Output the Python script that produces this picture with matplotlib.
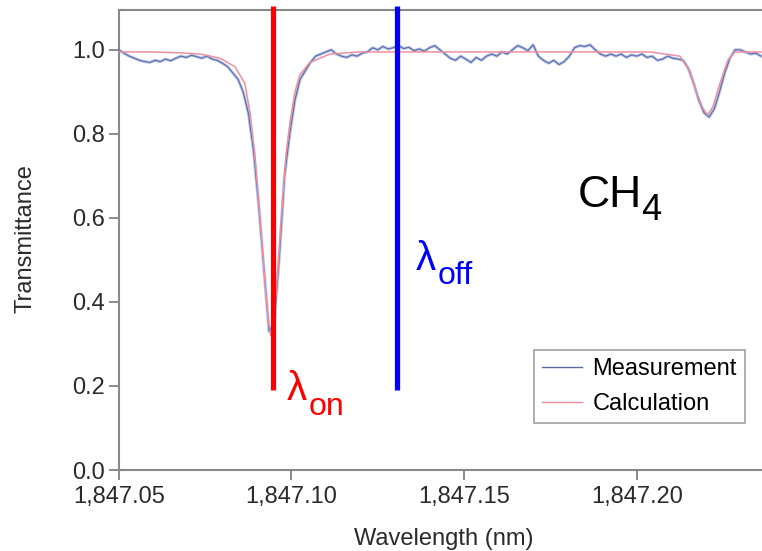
import numpy as np
import matplotlib
matplotlib.use("Agg")
from matplotlib import pyplot as plt
from matplotlib.ticker import FuncFormatter

plt.rcParams['font.family'] = ['Liberation Sans', 'DejaVu Sans']

# measured spectrum, sampled every 0.0015 nm from 1847.050 nm
meas_start = 1847.050
meas_step = 0.0015
meas_t = [
    1.000, 0.992, 0.985, 0.980, 0.975, 0.972, 0.970, 0.975, 0.972, 0.978,
    0.974, 0.980, 0.985, 0.982, 0.987, 0.984, 0.980, 0.985, 0.978, 0.975,
    0.968, 0.960, 0.945, 0.930, 0.900, 0.850, 0.760, 0.630, 0.480, 0.330,
    0.350, 0.510, 0.700, 0.800, 0.880, 0.930, 0.950, 0.970, 0.985, 0.990,
    0.995, 1.000, 0.990, 0.985, 0.982, 0.988, 0.985, 0.992, 0.995, 1.005,
    1.000, 1.008, 1.002, 1.005, 1.010, 1.003, 1.006, 0.998, 1.002, 0.997,
    1.005, 1.010, 1.000, 0.990, 0.980, 0.975, 0.985, 0.978, 0.970, 0.982,
    0.975, 0.985, 0.990, 0.985, 0.995, 0.990, 1.000, 1.010, 1.005, 0.998,
    1.012, 0.985, 0.975, 0.968, 0.975, 0.965, 0.972, 0.985, 1.005, 1.010,
    1.008, 1.012, 1.000, 0.990, 0.985, 0.990, 0.985, 0.990, 0.982, 0.988,
    0.985, 0.990, 0.982, 0.985, 0.975, 0.978, 0.985, 0.980, 0.978, 0.975,
    0.955, 0.920, 0.880, 0.850, 0.840, 0.860, 0.900, 0.945, 0.980, 1.000,
    1.000, 0.995, 0.990, 0.992, 0.985,
]
meas_wl = meas_start + meas_step * np.arange(len(meas_t))

# calculated line profile
calc_wl = [1847.0500, 1847.0590, 1847.0677, 1847.0735, 1847.0793, 1847.0836,
           1847.0865, 1847.0880, 1847.0894, 1847.0909, 1847.0920, 1847.0932,
           1847.0940, 1847.0949, 1847.0961, 1847.0972, 1847.0984, 1847.0996,
           1847.1010, 1847.1024, 1847.1053, 1847.1111, 1847.1198, 1847.1314,
           1847.2038, 1847.2125, 1847.2154, 1847.2177, 1847.2192, 1847.2206,
           1847.2221, 1847.2241, 1847.2264, 1847.2284, 1847.2363]
calc_t = [0.995, 0.995, 0.993, 0.990, 0.980, 0.960,
          0.920, 0.850, 0.750, 0.600, 0.480, 0.360,
          0.320, 0.360, 0.480, 0.620, 0.750, 0.830,
          0.900, 0.940, 0.970, 0.990, 0.995, 0.995,
          0.995, 0.985, 0.950, 0.890, 0.860, 0.845,
          0.865, 0.920, 0.975, 0.995, 0.995]

lambda_on = 1847.0946
lambda_off = 1847.1305
marker_bottom, marker_top = 0.19, 1.105

fig = plt.figure(figsize=(7.62, 5.51), dpi=100)
ax = fig.add_axes([0.156, 0.147, 0.844, 0.835])

ax.plot(meas_wl, meas_t, color='#b8c6ec', lw=2.2, zorder=2)
ax.plot(meas_wl, meas_t, color='#5a6ba4', lw=0.8, label='Measurement', zorder=3)
ax.plot(calc_wl, calc_t, color='#ee8fa0', lw=1.1, label='Calculation', zorder=4)

ax.plot([lambda_on, lambda_on], [marker_bottom, marker_top], color='#ff0000',
        lw=3.8, clip_on=False, zorder=5, solid_capstyle='butt')
ax.plot([lambda_off, lambda_off], [marker_bottom, marker_top], color='#0000ff',
        lw=3.8, clip_on=False, zorder=5, solid_capstyle='butt')


def label_with_sub(x, y, main, sub, color, size, subsize, dx, dy):
    ax.text(x, y, main, color=color, fontsize=size, va='baseline', ha='left')
    ax.annotate(sub, xy=(x, y), xytext=(dx, dy), textcoords='offset pixels',
                color=color, fontsize=subsize, va='baseline', ha='left')


label_with_sub(1847.0985, 0.167, 'λ', 'on', '#ff0000', 29, 23, 22, -15)
label_with_sub(1847.1361, 0.476, 'λ', 'off', '#0000ff', 29, 23, 22, -14)
label_with_sub(1847.1828, 0.626, 'CH', '4', 'black', 32, 26, 64, -13)

ax.set_xlim(1847.05, 1847.2363)
ax.set_ylim(0.0, 1.095)
ax.set_xticks([1847.05, 1847.10, 1847.15, 1847.20])
ax.set_yticks([0.0, 0.2, 0.4, 0.6, 0.8, 1.0])
ax.xaxis.set_major_formatter(FuncFormatter(lambda v, p: f'{v:,.2f}'))
ax.yaxis.set_major_formatter(FuncFormatter(lambda v, p: f'{v:.1f}'))
ax.tick_params(direction='out', length=7, width=1.2, color='#777777',
               labelsize=17, labelcolor='#2a2a2a')
ax.tick_params(axis='x', pad=4.5)
ax.tick_params(axis='y', pad=3)
for side in ['left', 'bottom', 'top']:
    ax.spines[side].set_color('#888888')
    ax.spines[side].set_linewidth(1.5)
ax.spines['right'].set_visible(False)

ax.set_xlabel('Wavelength (nm)', fontsize=17, color='#2a2a2a')
ax.set_ylabel('Transmittance', fontsize=17, color='#2a2a2a')
ax.xaxis.set_label_coords(0.505, -0.126)
ax.yaxis.set_label_coords(-0.128, 0.504)

leg = ax.legend(loc='upper left', bbox_to_anchor=(0.6454, 0.2609), fontsize=17,
                frameon=True, fancybox=False, edgecolor='#888888',
                handlelength=1.7, borderpad=0.35, labelspacing=0.55,
                handletextpad=0.42, borderaxespad=0)
leg.get_frame().set_linewidth(1.2)
for line in leg.get_lines():
    line.set_linewidth(1.0)

fig.savefig('out.png', dpi=100)
